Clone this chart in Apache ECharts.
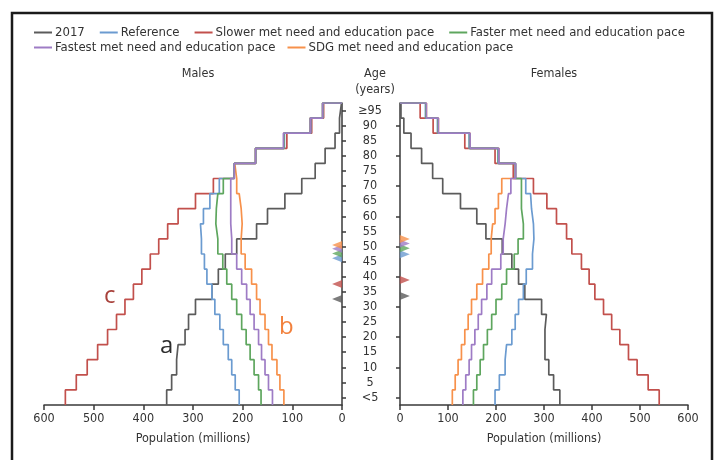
<!DOCTYPE html>
<html><head><meta charset="utf-8">
<script src="https://cdn.jsdelivr.net/npm/echarts@6/dist/echarts.min.js"></script>
<style>html,body{margin:0;padding:0;background:#fff}#c{width:715px;height:460px}</style>
</head><body><div id="c"></div>
<script>
// Age groups (bottom to top)
const ageLabels = ['<5','5','10','15','20','25','30','35','40','45','50','55','60','65','70','75','80','85','90','≥95'];
const popTicks = [0,100,200,300,400,500,600];
const seriesNames = ['2017','Reference','Slower met need and education pace','Faster met need and education pace','Fastest met need and education pace','SDG met need and education pace'];

// Males (millions), index 0 = <5 ... 19 = ≥95
const male2017     = [353,343,333,330,316,309,295,262,249,235,212,172,150,115,81,54,34,14,5,1];
const maleRef      = [207,215,222,229,239,246,256,262,272,277,283,285,279,266,247,217,174,116,63,39];
const maleSlower   = [557,535,513,492,472,454,437,420,403,386,369,351,330,295,259,217,174,111,61,37];
const maleFaster   = [163,168,177,185,193,202,212,222,232,240,250,254,253,250,239,217,174,117,64,39];
const maleFastest  = [140,148,155,162,168,177,185,192,202,212,222,224,224,224,224,217,174,118,64,39];
const maleSDG      = [117,125,131,141,148,155,165,172,182,195,203,201,203,207,212,216,174,117,64,39];

// Females (millions)
const female2017    = [333,320,310,302,302,305,295,260,247,233,213,179,160,126,89,68,45,23,8,2];
const femaleRef     = [198,207,219,222,233,240,247,257,263,276,279,278,274,272,262,240,204,144,78,53];
const femaleSlower  = [540,517,494,476,458,441,424,406,394,378,358,347,326,306,278,236,198,135,69,42];
const femaleFaster  = [153,160,167,174,182,191,200,212,222,238,246,257,253,253,253,241,205,145,79,54];
const femaleFastest = [131,137,144,149,156,163,170,181,191,210,215,219,222,226,231,241,206,146,80,55];
const femaleSDG     = [109,115,121,128,135,142,149,160,172,185,190,193,198,205,212,240,206,146,80,55];

// Mean age markers (years): 2017, Reference, Slower, Faster, Fastest, SDG
const maleMeanAge   = [35.1,48.6,40.1,50.2,51.7,53.0];
const femaleMeanAge = [36.1,49.9,41.4,51.9,53.5,55.0];

const colors = ['#5b5b5b','#6b9bd0','#c2504c','#5ea65e','#9e7cc5','#f7914b'];
const FONT = "'Liberation Sans Narrow','DejaVu Sans Condensed','Liberation Sans',sans-serif";

function stepPoints(vals){
  const pts = [];
  vals.forEach((v,i)=>{ pts.push([v,i*5]); pts.push([v,i*5+5]); });
  pts.push([0,100]);
  return pts;
}

const maleSets = [male2017,maleRef,maleSlower,maleFaster,maleFastest,maleSDG];
const femaleSets = [female2017,femaleRef,femaleSlower,femaleFaster,femaleFastest,femaleSDG];
const drawOrder = [0,5,2,1,3,4];

const series = [];
[ [maleSets,0], [femaleSets,1] ].forEach(([sets,g])=>{
  drawOrder.forEach(i=>{
    series.push({
      type:'line', name:seriesNames[i], xAxisIndex:g, yAxisIndex:g*2+1,
      data: stepPoints(sets[i]), showSymbol:false, symbol:'none',
      lineStyle:{color:colors[i], width:1.7}, itemStyle:{color:colors[i]},
      animation:false, z:2+drawOrder.indexOf(i)
    });
  });
});
// Mean-age triangles
const markerOrder = [0,2,1,3,4,5];
[[maleMeanAge,0,90],[femaleMeanAge,1,-90]].forEach(([ages,g,rot])=>{
  series.push({
    type:'scatter', name:'meanAge'+g, xAxisIndex:g, yAxisIndex:g*2+1,
    symbol:'triangle', symbolSize:[8,10], symbolRotate:rot, z:20,
    data: markerOrder.map(i=>({value:[10,ages[i]], itemStyle:{color:colors[i]}})),
    animation:false, silent:true
  });
});

const axisLineStyle = {color:'#3a3a3a', width:1.5};
const xAxisCommon = {
  type:'value', min:popTicks[0], max:popTicks[popTicks.length-1], interval:100,
  splitLine:{show:false},
  axisLine:{show:true, lineStyle:axisLineStyle},
  axisTick:{show:true, length:5, lineStyle:axisLineStyle},
  axisLabel:{fontSize:12.5, color:'#333', margin:7, fontFamily:FONT},
  name:'Population (millions)', nameLocation:'middle', nameGap:27,
  nameTextStyle:{fontSize:12.5, color:'#333', fontFamily:FONT}
};

const option = {
  animation:false,
  textStyle:{fontFamily:FONT},
  grid:[
    {left:44, top:103, width:298, height:302},
    {left:400, top:103, width:288, height:302}
  ],
  legend:[
    {data:seriesNames.slice(0,4), left:29, top:21, icon:'rect', itemWidth:18, itemHeight:2, itemGap:15,
     textStyle:{fontSize:13, color:'#333', fontFamily:FONT, padding:[0,0,0,-2]}},
    {data:seriesNames.slice(4), left:29, top:36, icon:'rect', itemWidth:18, itemHeight:2, itemGap:12,
     textStyle:{fontSize:13, color:'#333', fontFamily:FONT, padding:[0,0,0,-2]}}
  ],
  xAxis:[
    Object.assign({}, xAxisCommon, {gridIndex:0, inverse:true}),
    Object.assign({}, xAxisCommon, {gridIndex:1})
  ],
  yAxis:[
    {type:'category', gridIndex:0, data:ageLabels, position:'right', boundaryGap:true,
     axisLine:{show:true, lineStyle:axisLineStyle},
     axisTick:{show:true, alignWithLabel:true, length:4, lineStyle:axisLineStyle},
     axisLabel:{show:true, interval:0, align:'center', margin:28, fontSize:12.5, color:'#333', fontFamily:FONT},
     splitLine:{show:false}},
    {type:'value', gridIndex:0, min:0, max:100, show:false},
    {type:'category', gridIndex:1, data:ageLabels, position:'left', boundaryGap:true,
     axisLine:{show:true, lineStyle:axisLineStyle},
     axisTick:{show:true, alignWithLabel:true, length:4, lineStyle:axisLineStyle},
     axisLabel:{show:false}, splitLine:{show:false}},
    {type:'value', gridIndex:1, min:0, max:100, show:false}
  ],
  title:[
    {text:'Males', left:193, top:62, textAlign:'center', textStyle:{fontSize:12.5, fontWeight:'normal', color:'#333', fontFamily:FONT}},
    {text:'Age', left:370, top:62, textAlign:'center', textStyle:{fontSize:12.5, fontWeight:'normal', color:'#333', fontFamily:FONT}},
    {text:'(years)', left:370, top:78, textAlign:'center', textStyle:{fontSize:12.5, fontWeight:'normal', color:'#333', fontFamily:FONT}},
    {text:'Females', left:549, top:62, textAlign:'center', textStyle:{fontSize:12.5, fontWeight:'normal', color:'#333', fontFamily:FONT}}
  ],
  graphic:[
    {type:'polyline', shape:{points:[[12,470],[12,13],[712,13],[712,470]]}, style:{fill:'none', stroke:'#1a1a1a', lineWidth:2.5}, silent:true},
    {type:'text', left:104, top:284, style:{text:'c', fontSize:24, fill:'#a8413b', fontFamily:"'Open Sans',sans-serif"}},
    {type:'text', left:160, top:334, style:{text:'a', fontSize:24, fill:'#2e2e2e', fontFamily:"'Open Sans',sans-serif"}},
    {type:'text', left:279, top:315, style:{text:'b', fontSize:24, fill:'#f2803c', fontFamily:"'Open Sans',sans-serif"}}
  ],
  series:series
};
echarts.init(document.getElementById('c'), null, {renderer:'canvas'}).setOption(option);
</script>
</body></html>
